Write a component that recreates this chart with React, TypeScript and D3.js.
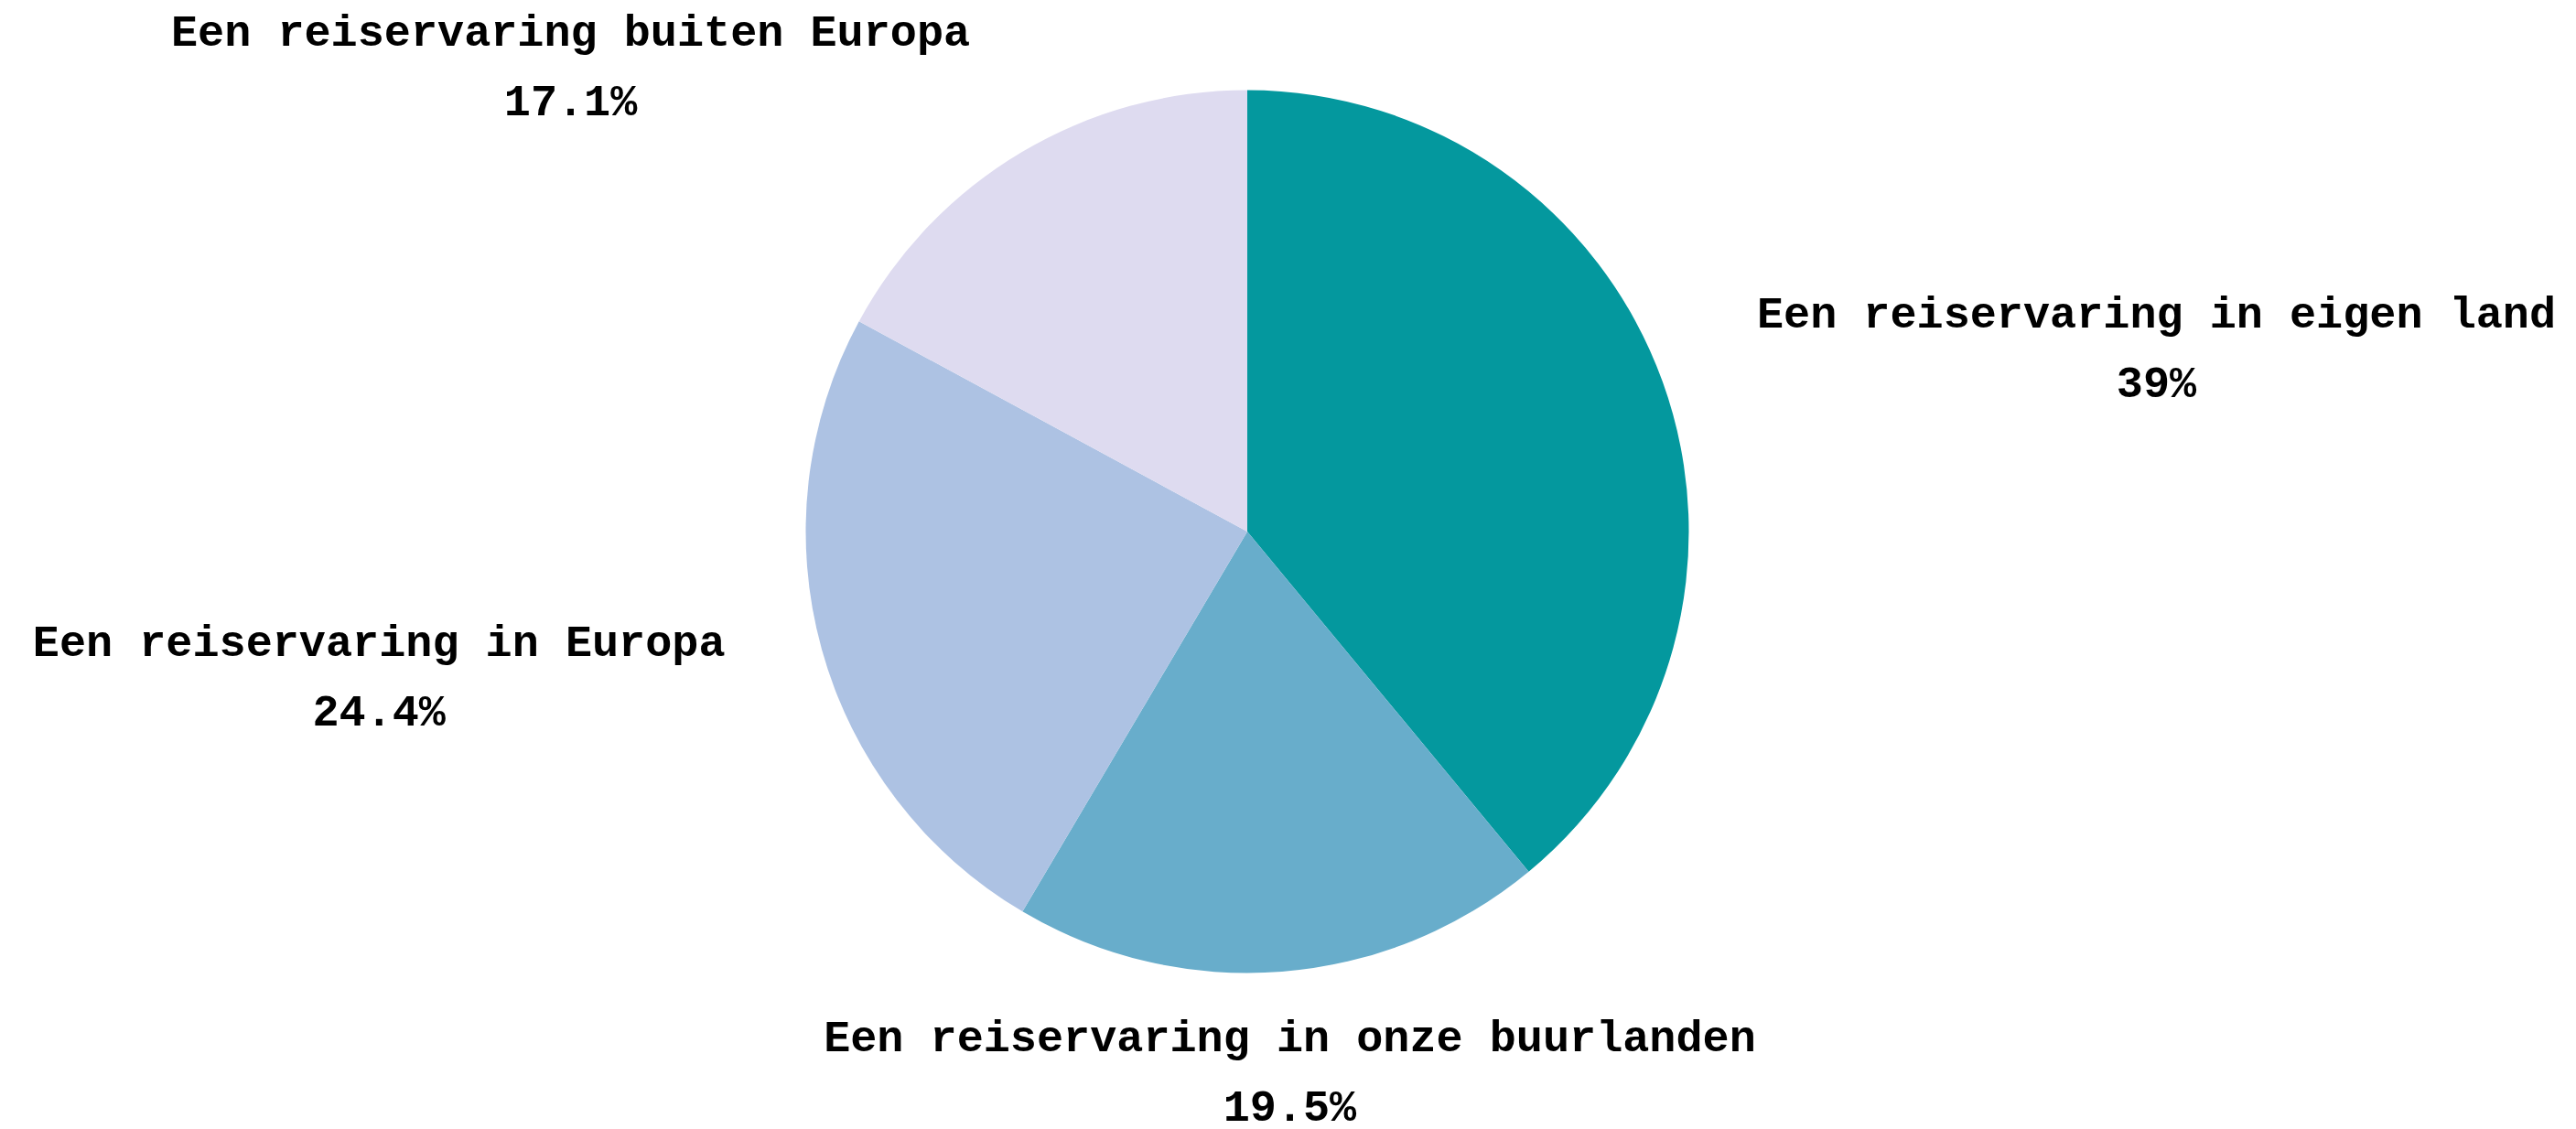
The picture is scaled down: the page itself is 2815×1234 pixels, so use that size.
import React from "react";
import * as d3 from "d3";

const categories = [
  "Een reiservaring in eigen land",
  "Een reiservaring in onze buurlanden",
  "Een reiservaring in Europa",
  "Een reiservaring buiten Europa",
];
const values = [39, 19.5, 24.4, 17.1];
const valueLabels = ["39%", "19.5%", "24.4%", "17.1%"];
const colors = ["#04989E", "#68ADCB", "#ADC2E3", "#DEDBF0"];

const W = 2815;
const H = 1234;
const CX = 1363;
const CY = 581;
const R = 482.5;
const LABEL_R = 592;
const FS = 48.5;
const CHAR_W = FS * 0.6;

export default function App() {
  const pie = d3
    .pie<number>()
    .sort(null)
    .value((d) => d)(values);
  const arc = d3.arc<d3.PieArcDatum<number>>().innerRadius(0).outerRadius(R);

  return (
    <svg
      width={W}
      height={H}
      style={{ position: "absolute", left: 0, top: 0, background: "#fff" }}
    >
      <g transform={`translate(${CX},${CY})`}>
        {pie.map((p, i) => (
          <path key={i} d={arc(p) || ""} fill={colors[i]} />
        ))}
        {pie.map((p, i) => {
          const a = (p.startAngle + p.endAngle) / 2;
          const x = Math.sin(a) * LABEL_R;
          const y = -Math.cos(a) * LABEL_R + 3;
          const blockW =
            Math.max(categories[i].length, valueLabels[i].length) * CHAR_W;
          const cx =
            Math.abs(Math.sin(a)) < 0.2
              ? x
              : x > 0
              ? x + blockW / 2
              : x - blockW / 2;
          return (
            <text
              key={"t" + i}
              x={cx}
              y={y}
              textAnchor="middle"
              fontFamily="'Liberation Mono', 'DejaVu Sans Mono', monospace"
              fontWeight="bold"
              fontSize={FS}
              fill="#000"
            >
              <tspan x={cx} dy={-38} dominantBaseline="central">
                {categories[i]}
              </tspan>
              <tspan x={cx} dy={76} dominantBaseline="central">
                {valueLabels[i]}
              </tspan>
            </text>
          );
        })}
      </g>
    </svg>
  );
}
